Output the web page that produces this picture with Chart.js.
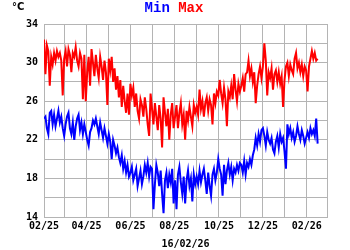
<!DOCTYPE html>
<html>
<head>
<meta charset="utf-8">
<script src="https://cdn.jsdelivr.net/npm/chart.js@4.4.1/dist/chart.umd.min.js"></script>
<style>
  body { margin: 0; background: #fff; }
  #wrap { width: 350px; height: 250px; }
</style>
</head>
<body>
<div id="wrap"><canvas id="temp-chart" width="350" height="250"></canvas></div>
<script>
// days since 01/02/25 where each month starts (grid lines)
const monthDays = [0, 28, 59, 89, 120, 150, 181, 212, 243, 273, 304, 334, 365, 393];
const tickLabels = ['02/25', '', '04/25', '', '06/25', '', '08/25', '', '10/25', '', '12/25', '', '02/26', ''];
const stepDays = 2; // one reading every 2 days, from 01/02/25 to 16/02/26

const maxTemp = [
    32.4, 28.8, 31.8, 31.2, 27.6, 30.6, 29.8, 31.0, 30.2, 31.2, 30.6, 31.0, 30.2, 26.6,       // feb
    30.4, 31.2, 29.6, 31.4, 30.8, 29.0, 31.0, 30.6, 31.6, 30.2, 29.6, 31.0, 30.4, 26.2, 30.8, 26.0, // mar
    29.0, 30.6, 27.6, 31.4, 30.0, 28.6, 30.8, 29.4, 28.4, 30.6, 29.6, 28.2, 30.2, 29.0, 25.6, // apr
    30.4, 29.2, 30.6, 28.0, 29.4, 27.2, 28.6, 26.4, 28.2, 25.4, 27.6, 26.0, 24.8, 26.8, 24.6, // may
    27.8, 26.6, 27.4, 25.4, 26.8, 25.0, 24.2, 26.2, 25.6, 24.4, 26.4, 25.2, 23.6, 22.4, 26.8, // jun
    25.2, 23.6, 25.8, 24.4, 23.0, 25.6, 24.2, 21.2, 26.4, 24.8, 23.4, 25.2, 22.0, 24.6, 25.8, 23.2, // jul
    24.4, 25.6, 23.2, 24.8, 25.8, 23.6, 24.6, 22.0, 25.0, 24.0, 25.4, 24.4, 23.4, 25.6, 24.8, // aug
    25.4, 24.6, 27.2, 25.2, 26.0, 24.4, 25.8, 26.4, 25.0, 26.2, 25.6, 23.6, 26.8, 25.8, 27.0, // sep
    26.6, 28.2, 26.8, 25.8, 27.4, 26.2, 23.4, 27.0, 26.4, 27.6, 26.2, 28.8, 27.2, 26.0, 27.8, 27.0, // oct
    27.6, 28.4, 27.0, 28.8, 29.0, 30.2, 28.6, 29.4, 28.0, 29.0, 25.8, 27.6, 28.8, 29.6, 28.4, // nov
    29.6, 32.0, 30.2, 26.6, 29.0, 28.4, 29.4, 27.2, 28.8, 29.2, 28.0, 29.0, 27.8, 28.6, 25.4, // dec
    28.2, 29.6, 30.0, 28.6, 29.8, 29.2, 28.8, 30.4, 31.0, 29.4, 30.0, 29.0, 29.8, 28.6, 29.6, 29.2, // jan
    27.0, 29.6, 30.4, 31.2, 30.4, 31.0, 30.2, 30.4                                            // feb
];

const minTemp = [
    24.2, 24.4, 23.2, 22.6, 24.8, 25.0, 23.6, 24.6, 23.4, 24.2, 25.0, 23.8, 24.4, 23.2,       // feb
    22.4, 23.6, 24.4, 24.8, 23.2, 22.6, 23.8, 22.0, 23.4, 24.2, 24.6, 23.0, 23.8, 22.6, 23.6, 22.8, // mar
    22.0, 21.4, 22.8, 23.2, 24.0, 23.6, 24.2, 23.4, 22.6, 23.8, 23.0, 22.2, 23.2, 22.4, 21.6, // apr
    22.6, 21.8, 20.0, 22.0, 21.4, 20.6, 21.2, 20.2, 19.6, 20.4, 19.0, 19.8, 18.6, 19.4, 18.2, // may
    18.6, 19.2, 17.8, 18.4, 19.0, 17.2, 18.0, 18.8, 17.4, 18.2, 19.4, 18.6, 19.6, 18.2, 19.2, // jun
    19.0, 14.8, 17.4, 19.4, 18.6, 17.2, 18.8, 16.4, 14.4, 17.8, 18.6, 17.0, 18.4, 17.6, 19.0, 15.4, // jul
    17.8, 14.8, 18.4, 19.2, 17.6, 16.4, 18.2, 15.4, 17.8, 18.8, 17.2, 18.0, 15.6, 18.4, 17.4, // aug
    18.2, 17.4, 18.8, 17.6, 18.4, 19.0, 17.8, 16.4, 18.6, 17.2, 16.2, 18.4, 19.0, 17.8, 18.6, // sep
    20.0, 19.0, 18.4, 16.2, 19.4, 17.4, 18.8, 19.6, 18.4, 19.2, 17.8, 19.0, 18.6, 19.4, 18.8, 19.6, // oct
    19.4, 18.6, 19.8, 18.4, 19.6, 19.2, 20.0, 19.4, 20.4, 21.0, 22.2, 21.4, 22.6, 21.8, 23.0, // nov
    23.2, 22.4, 21.4, 22.8, 22.0, 21.6, 22.2, 21.0, 20.6, 21.8, 22.4, 21.2, 22.6, 21.8, 22.2, // dec
    20.8, 19.0, 23.6, 22.6, 23.2, 22.2, 22.8, 21.8, 22.4, 23.4, 22.6, 22.0, 23.0, 22.4, 21.6, 22.2, // jan
    22.8, 22.2, 23.2, 22.6, 23.0, 22.4, 24.2, 21.6                                            // feb
];

function toPoints(values) {
    return values.map((v, i) => ({ x: i * stepDays, y: v }));
}

const gridColor = '#b4b4b4';
const tickFont = { family: 'DejaVu Sans Mono', size: 10, weight: 'bold' };

// title "Min Max" in two colours and the °C unit
const headerPlugin = {
    id: 'header',
    afterDraw(chart) {
        const ctx = chart.ctx;
        ctx.save();
        ctx.font = 'bold 14px "Liberation Mono"';
        ctx.textBaseline = 'middle';
        const w = ctx.measureText('Min Max').width;
        let x = 174 - w / 2;
        ctx.fillStyle = '#0000ff';
        ctx.fillText('Min', x, 8);
        ctx.fillStyle = '#ff0000';
        ctx.fillText('Max', x + ctx.measureText('Min ').width, 8);
        ctx.fillStyle = '#000';
        ctx.font = 'bold 10px "DejaVu Sans"';
        ctx.fillText('°C', 12, 7);
        ctx.restore();
    }
};

const ctx = document.getElementById('temp-chart').getContext('2d');
new Chart(ctx, {
    type: 'line',
    data: {
        datasets: [{
            label: 'Max',
            data: toPoints(maxTemp),
            borderColor: '#ff0000',
            borderWidth: 2,
            pointRadius: 0,
            tension: 0
        }, {
            label: 'Min',
            data: toPoints(minTemp),
            borderColor: '#0000ff',
            borderWidth: 2,
            pointRadius: 0,
            tension: 0
        }]
    },
    options: {
        responsive: false,
        animation: false,
        layout: { padding: { top: 24, right: 23, left: 0, bottom: 0 } },
        plugins: {
            legend: { display: false },
            tooltip: { enabled: false }
        },
        scales: {
            x: {
                type: 'linear',
                min: 0,
                max: 393,
                afterBuildTicks: scale => {
                    scale.ticks = monthDays.map(d => ({ value: d }));
                },
                afterFit: scale => { scale.height = 33; },
                ticks: {
                    autoSkip: false,
                    maxRotation: 0,
                    padding: 3,
                    color: '#000',
                    font: tickFont,
                    callback: (value, index) => tickLabels[index]
                },
                grid: { color: gridColor, drawTicks: false },
                border: { color: gridColor },
                title: {
                    display: true,
                    text: '16/02/26',
                    color: '#000',
                    font: tickFont,
                    padding: { top: 0, bottom: 0 }
                }
            },
            y: {
                min: 14,
                max: 34,
                afterFit: scale => { scale.width = 44; },
                ticks: {
                    stepSize: 2,
                    padding: 6,
                    color: '#000',
                    font: tickFont,
                    callback: value => ((value - 14) % 4 === 0 ? value : '')
                },
                grid: { color: gridColor, drawTicks: false },
                border: { color: gridColor }
            }
        }
    },
    plugins: [headerPlugin]
});
</script>
</body>
</html>
